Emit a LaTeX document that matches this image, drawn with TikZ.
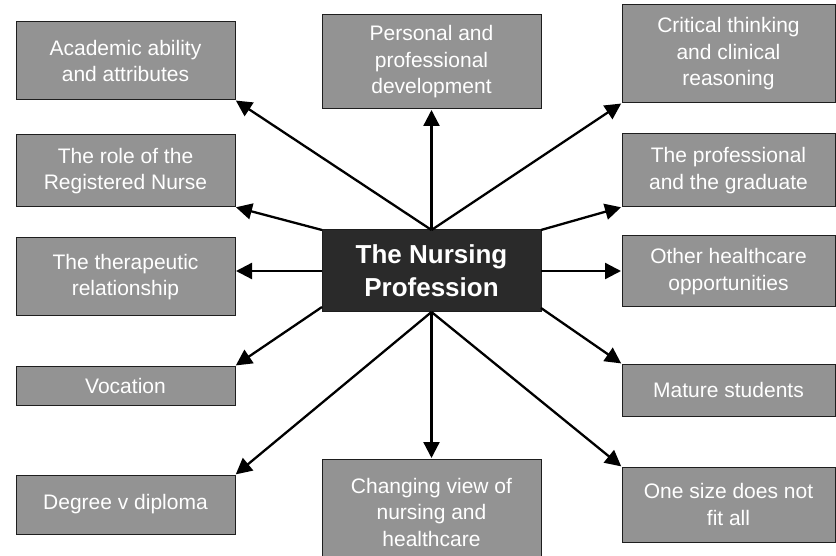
\documentclass[tikz,border=0pt]{standalone}
\usepackage{fontspec}
\setmainfont{Liberation Sans}
\usetikzlibrary{arrows.meta}
\definecolor{boxgray}{HTML}{939393}
\definecolor{boxdark}{HTML}{2A2A2A}
\definecolor{edge}{HTML}{1E1E1E}
\tikzset{
  topic/.style={draw=edge, line width=1pt, fill=boxgray, text=white, align=center,
    inner sep=0pt, outer sep=0pt, font=\fontsize{21}{26.5}\selectfont},
  hub/.style={draw=edge, line width=1pt, fill=boxdark, text=white, align=center,
    inner sep=0pt, outer sep=0pt, font=\fontsize{26}{33}\selectfont\bfseries},
  link/.style={line width=2.3pt, draw=black, -{Triangle[length=16pt,width=16pt]}, shorten >=1pt}
}
\newcommand{\boxat}[7]{% style, name, x1, x2, y1, y2, text
  \node[#1, minimum width={#4-#3}, minimum height={#6-#5}] (#2) at ({(#3+#4)/2},{-(#5+#6)/2}) {#7};}
\begin{document}
\begin{tikzpicture}[x=1pt,y=1pt]
\useasboundingbox (0,0) rectangle (836,-556);
\boxat{topic}{aca}{16}{235}{22}{100}{Academic ability\\and attributes}
\boxat{topic}{role}{16}{235}{135}{207}{The role of the\\Registered Nurse}
\boxat{topic}{ther}{16}{235}{238}{316}{The therapeutic\\relationship}
\boxat{topic}{voc}{16}{235}{366}{405}{Vocation}
\boxat{topic}{deg}{16}{235}{475}{534}{Degree v diploma}
\boxat{topic}{pers}{322}{541}{15}{109}{Personal and\\professional\\development}
\boxat{hub}{c}{322}{541}{230}{312}{The Nursing\\Profession}
\node[topic, minimum width=219pt, minimum height=106pt, anchor=north] (chg) at (431.5,-459) {Changing view of\\nursing and\\healthcare};
\boxat{topic}{crit}{622}{835}{5}{103}{Critical thinking\\and clinical\\reasoning}
\boxat{topic}{prof}{622}{835}{134}{207}{The professional\\and the graduate}
\boxat{topic}{oth}{622}{835}{236}{307}{Other healthcare\\opportunities}
\boxat{topic}{mat}{622}{835}{364}{416}{Mature students}
\boxat{topic}{one}{622}{835}{467}{542}{One size does not\\fit all}
% connectors
\draw[link] (c.north) -- (aca.south east);
\draw[link] (c.north) -- (pers.south);
\draw[link] (c.north) -- (crit.south west);
\draw[link] (c.north west) -- (role.south east);
\draw[link] (c.north east) -- (prof.south west);
\draw[link] (c.west) -- (c.west -| ther.east);
\draw[link] (c.east) -- (c.east -| oth.west);
\draw[link] ([yshift=5pt]c.south west) -- (voc.north east);
\draw[link] ([yshift=4pt]c.south east) -- (mat.north west);
\draw[link] (c.south) -- (deg.north east);
\draw[link] (c.south) -- (chg.north);
\draw[link] (c.south) -- (one.north west);
\end{tikzpicture}
\end{document}
